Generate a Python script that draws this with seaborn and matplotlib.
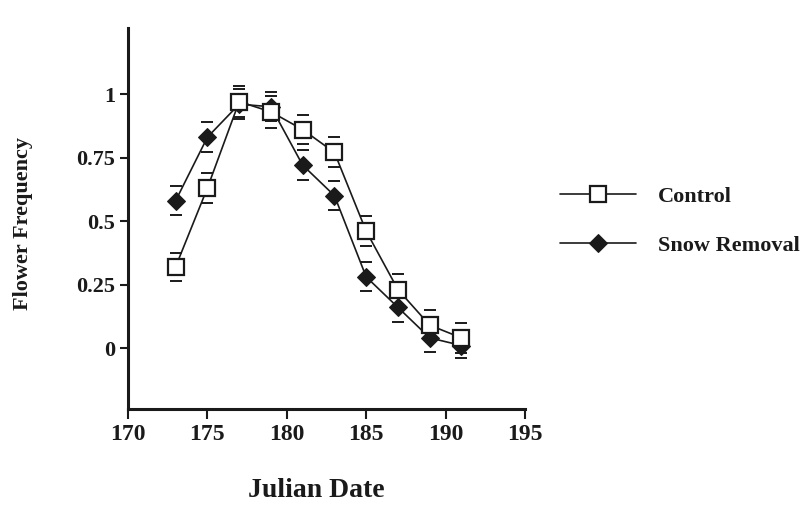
import matplotlib
matplotlib.use("Agg")
import matplotlib.pyplot as plt
import seaborn as sns
import pandas as pd

# Julian dates of the flower censuses
days = [173, 175, 177, 179, 181, 183, 185, 187, 189, 191]

# Mean flower frequency and its standard error per treatment
control = [0.32, 0.63, 0.97, 0.93, 0.86, 0.77, 0.46, 0.23, 0.09, 0.04]
control_err = [0.056, 0.058, 0.062, 0.064, 0.056, 0.059, 0.058, 0.062, 0.060, 0.060]
snow_removal = [0.58, 0.83, 0.96, 0.95, 0.72, 0.60, 0.28, 0.16, 0.04, 0.01]
snow_removal_err = [0.058, 0.058, 0.060, 0.058, 0.060, 0.058, 0.057, 0.057, 0.054, 0.050]

x_ticks = [170, 175, 180, 185, 190, 195]
y_ticks = [0, 0.25, 0.5, 0.75, 1]
y_tick_labels = ["0", "0.25", "0.5", "0.75", "1"]

sns.set_theme(style="ticks")
plt.rcParams["font.family"] = ["Liberation Serif", "DejaVu Serif"]
plt.rcParams["font.weight"] = "bold"

ink = "#1a1a1a"

df_control = pd.DataFrame({"day": days, "freq": control})
df_snow = pd.DataFrame({"day": days, "freq": snow_removal})

fig = plt.figure(figsize=(8.03, 5.07), dpi=100)
ax = fig.add_axes([128 / 803, 1 - 409 / 507, 397 / 803, 381 / 507])

# Snow removal series (filled diamonds), drawn underneath the control series
ax.errorbar(days, snow_removal, yerr=snow_removal_err, fmt="none",
            ecolor=ink, elinewidth=0, capsize=4, capthick=1.4, zorder=2)
sns.lineplot(data=df_snow, x="day", y="freq", ax=ax, color=ink, lw=1.2,
             marker="D", markersize=9.5, markerfacecolor=ink,
             markeredgecolor=ink, label="Snow Removal", zorder=3)

# Control series (open squares)
ax.errorbar(days, control, yerr=control_err, fmt="none",
            ecolor=ink, elinewidth=0, capsize=4, capthick=1.4, zorder=4)
sns.lineplot(data=df_control, x="day", y="freq", ax=ax, color=ink, lw=1.2,
             marker="s", markersize=11, markerfacecolor="white",
             markeredgecolor=ink, markeredgewidth=1.6, label="Control",
             zorder=5)

ax.set_xlim(170, 195)
ax.set_ylim(-0.24, 1.26)
ax.set_xticks(x_ticks)
ax.set_xticklabels([str(t) for t in x_ticks], fontsize=17, fontweight="bold",
                   color=ink)
ax.set_yticks(y_ticks)
ax.set_yticklabels(y_tick_labels, fontsize=16, fontweight="bold", color=ink)
ax.tick_params(axis="x", length=7, width=1.5, pad=4, color=ink)
ax.tick_params(axis="y", length=6, width=1.5, pad=3, color=ink)

sns.despine(ax=ax)
for side in ("left", "bottom"):
    ax.spines[side].set_linewidth(2.2)
    ax.spines[side].set_color(ink)

ax.set_xlabel("Julian Date", fontsize=20, fontweight="bold", color=ink)
ax.xaxis.set_label_coords((316 - 128) / 397, (409 - 478) / 381)
ax.set_ylabel("Flower Frequency", fontsize=16, fontweight="bold", color=ink)
ax.yaxis.set_label_coords((33 - 128) / 397, (409 - 223) / 381)

# Legend to the right of the plot, control listed first
handles, labels = ax.get_legend_handles_labels()
order = [labels.index("Control"), labels.index("Snow Removal")]
leg = ax.legend([handles[i] for i in order], [labels[i] for i in order],
                loc="center left", bbox_to_anchor=(560 / 803, 1 - 221 / 507),
                bbox_transform=fig.transFigure, frameon=False,
                handlelength=3.4, handletextpad=1.0, labelspacing=1.3,
                borderpad=0, borderaxespad=0,
                prop={"family": ["Liberation Serif"], "weight": "bold",
                      "size": 16})
for t in leg.get_texts():
    t.set_color(ink)

fig.savefig("out.png", dpi=100, facecolor="white")
